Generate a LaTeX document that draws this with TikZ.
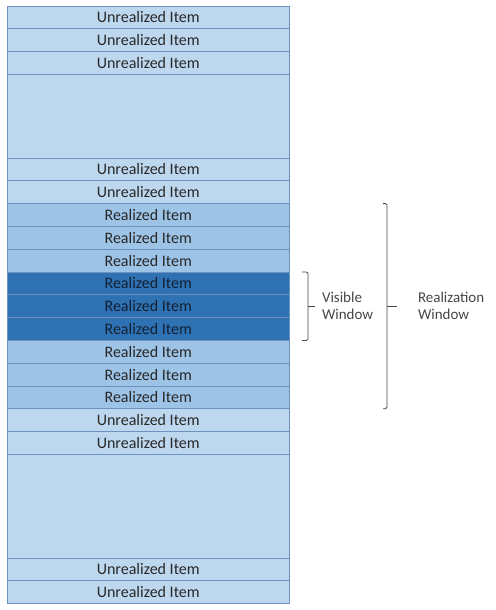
\documentclass[tikz,border=0pt]{standalone}
\usepackage{fontspec}
\setmainfont{Carlito}
\usetikzlibrary{positioning}
\definecolor{unrealfill}{RGB}{189,215,238}
\definecolor{realfill}{RGB}{157,195,230}
\definecolor{visfill}{RGB}{46,114,180}
\definecolor{rowline}{RGB}{110,146,192}
\definecolor{itemtext}{RGB}{40,40,40}
\definecolor{vistext}{RGB}{18,32,52}
\definecolor{bracegray}{RGB}{70,70,70}
\tikzset{
row/.style={draw=rowline, line width=0.9pt, minimum width=281.5pt, minimum height=22.8pt, inner sep=0pt, outer sep=0pt, text=itemtext, font=\fontsize{16}{18}\selectfont},
unreal/.style={row, fill=unrealfill},
real/.style={row, fill=realfill},
visible/.style={row, fill=visfill, text=vistext},
spacer/.style={unreal, minimum height=#1},
brace/.style={draw=bracegray, line width=0.8pt, rounded corners=1.5pt},
winlabel/.style={inner sep=0pt, outer sep=0pt, align=left, text=bracegray, font=\fontsize{15}{17}\selectfont}
}

\begin{document}
\begin{tikzpicture}[x=1pt, y=-1pt]
    \useasboundingbox (0,0) rectangle (495,610);
    % items above the realization window
    \node[unreal] (u1) at (148.25,17.4) {Unrealized Item};
    \node[unreal, below=0pt of u1] (u2) {Unrealized Item};
    \node[unreal, below=0pt of u2] (u3) {Unrealized Item};
    \node[spacer=83.6pt, below=0pt of u3] (gapa) {};
    \node[unreal, below=0pt of gapa] (u4) {Unrealized Item};
    \node[unreal, below=0pt of u4] (u5) {Unrealized Item};
    % realization window
    \node[real, below=0pt of u5] (r1) {Realized Item};
    \node[real, below=0pt of r1] (r2) {Realized Item};
    \node[real, below=0pt of r2] (r3) {Realized Item};
    \node[visible, below=0pt of r3] (v1) {Realized Item};
    \node[visible, below=0pt of v1] (v2) {Realized Item};
    \node[visible, below=0pt of v2] (v3) {Realized Item};
    \node[real, below=0pt of v3] (r4) {Realized Item};
    \node[real, below=0pt of r4] (r5) {Realized Item};
    \node[real, below=0pt of r5] (r6) {Realized Item};
    % items below
    \node[unreal, below=0pt of r6] (u6) {Unrealized Item};
    \node[unreal, below=0pt of u6] (u7) {Unrealized Item};
    \node[spacer=103.6pt, below=0pt of u7] (gapb) {};
    \node[unreal, below=0pt of gapb] (u8) {Unrealized Item};
    \node[unreal, below=0pt of u8] (u9) {Unrealized Item};

    % braces
    \draw[brace] ([xshift=13pt]v1.north east) -| ([xshift=19pt]v3.south east) -- ([xshift=13pt]v3.south east);
    \draw[brace] ([xshift=19pt]v2.east) -- ++(7pt,0) coordinate (vistip);
    \draw[brace] ([xshift=94pt]r1.north east) -| ([xshift=98pt]r6.south east) -- ([xshift=94pt]r6.south east);
    \draw[brace] ([xshift=98pt]v2.east) -- ++(10pt,0) coordinate (realtip);
    \node[winlabel, right=7pt of vistip] (vislbl) {Visible\\Window};
    \node[winlabel, right=21pt of realtip] (reallbl) {Realization\\Window};
\end{tikzpicture}
\end{document}
